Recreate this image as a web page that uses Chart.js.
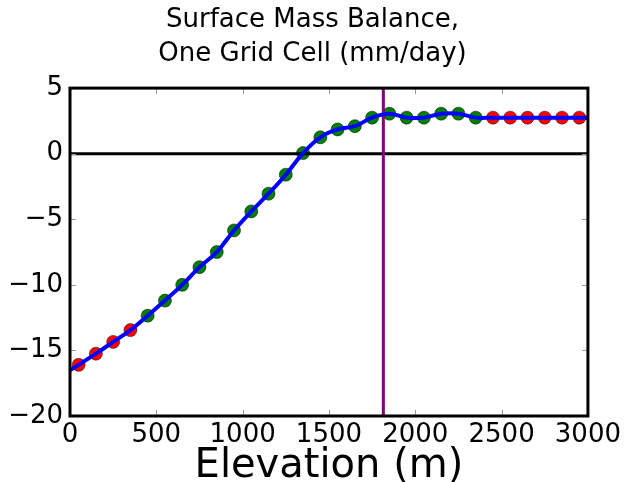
<!DOCTYPE html>
<html>
<head>
<meta charset="utf-8">
<script src="https://cdn.jsdelivr.net/npm/chart.js@4"></script>
<style>
  html, body { margin: 0; padding: 0; background: #fff; }
  canvas { display: block; }
</style>
</head>
<body>
<canvas id="smbChart" width="625" height="482"></canvas>
<script>
// elevation bin centres (m) and SMB (mm/day)
const elevations = [50, 150, 250, 350, 450, 550, 650, 750, 850, 950,
                    1050, 1150, 1250, 1350, 1450, 1550, 1650, 1750, 1850, 1950,
                    2050, 2150, 2250, 2350, 2450, 2550, 2650, 2750, 2850, 2950];
const smbValues = [-16.1, -15.25, -14.35, -13.45, -12.35, -11.2, -10.0, -8.65, -7.5, -5.85,
                   -4.4, -3.05, -1.6, 0.05, 1.25, 1.85, 2.1, 2.75, 3.05, 2.75,
                   2.75, 3.05, 3.05, 2.75, 2.75, 2.75, 2.75, 2.75, 2.75, 2.75];
// which bins are drawn red (outside the glacier range) vs green
const isExtrapolated = [true, true, true, true, false, false, false, false, false, false,
                        false, false, false, false, false, false, false, false, false, false,
                        false, false, false, false, true, true, true, true, true, true];
// smooth fit drawn across the full axis
const fitEndsX = [0, 3000];
const fitEndsY = [-16.5, 2.75];
const markerElevation = 1815;

const xTicks = [0, 500, 1000, 1500, 2000, 2500, 3000];
const yTicks = [5, 0, -5, -10, -15, -20];

const redPts = [], greenPts = [];
elevations.forEach((e, i) => {
    (isExtrapolated[i] ? redPts : greenPts).push({x: e, y: smbValues[i]});
});
const fitPts = [{x: fitEndsX[0], y: fitEndsY[0]}]
    .concat(elevations.map((e, i) => ({x: e, y: smbValues[i]})))
    .concat([{x: fitEndsX[1], y: fitEndsY[1]}]);

// matplotlib-style frame and inward ticks
const framePlugin = {
    id: 'frame',
    afterDatasetsDraw(chart) {
        const {ctx, chartArea: a, scales} = chart;
        ctx.save();
        ctx.strokeStyle = '#999';
        ctx.lineWidth = 1;
        ctx.beginPath();
        xTicks.forEach(v => {
            const px = Math.round(scales.x.getPixelForValue(v)) + 0.5;
            ctx.moveTo(px, a.bottom); ctx.lineTo(px, a.bottom - 6);
            ctx.moveTo(px, a.top); ctx.lineTo(px, a.top + 6);
        });
        yTicks.forEach(v => {
            const py = Math.round(scales.y.getPixelForValue(v)) + 0.5;
            ctx.moveTo(a.left, py); ctx.lineTo(a.left + 6, py);
            ctx.moveTo(a.right, py); ctx.lineTo(a.right - 6, py);
        });
        ctx.stroke();
        ctx.strokeStyle = '#000';
        ctx.lineWidth = 3;
        ctx.strokeRect(a.left, a.top, a.right - a.left, a.bottom - a.top);
        ctx.restore();
    }
};

new Chart(document.getElementById('smbChart'), {
    type: 'scatter',
    data: {
        datasets: [
            {
                label: 'fit',
                data: fitPts,
                showLine: true,
                borderColor: '#0000ff',
                borderWidth: 4,
                tension: 0.4,
                pointRadius: 0,
                order: 0
            },
            {
                label: 'marker',
                data: [{x: markerElevation, y: -20}, {x: markerElevation, y: 5}],
                showLine: true,
                borderColor: '#800080',
                borderWidth: 3,
                pointRadius: 0,
                order: 1
            },
            {
                label: 'zero',
                data: [{x: 0, y: 0}, {x: 3000, y: 0}],
                showLine: true,
                borderColor: '#000000',
                borderWidth: 3,
                pointRadius: 0,
                order: 2
            },
            {
                label: 'glacier',
                data: greenPts,
                backgroundColor: '#008000',
                borderColor: '#000000',
                borderWidth: 0.5,
                pointRadius: 6.5,
                order: 3
            },
            {
                label: 'extrapolated',
                data: redPts,
                backgroundColor: '#ff0000',
                borderColor: '#000000',
                borderWidth: 0.5,
                pointRadius: 6.5,
                order: 3
            }
        ]
    },
    options: {
        responsive: false,
        animation: false,
        layout: { padding: 0 },
        plugins: {
            legend: { display: false },
            tooltip: { enabled: false },
            title: {
                display: true,
                text: ['Surface Mass Balance,', 'One Grid Cell (mm/day)'],
                color: '#000',
                font: { family: 'DejaVu Sans', size: 26, weight: 'normal', lineHeight: 1.31 },
                padding: { top: 3, bottom: 17 }
            }
        },
        scales: {
            x: {
                type: 'linear',
                min: 0, max: 3000,
                afterBuildTicks: s => { s.ticks = xTicks.map(v => ({value: v})); },
                afterFit: s => { s.height = 66; },
                grid: { display: false, drawTicks: false },
                border: { display: false },
                ticks: {
                    color: '#000', padding: 4,
                    font: { family: 'DejaVu Sans', size: 26 },
                    callback: v => String(v)
                },
                title: {
                    display: true,
                    text: 'Elevation (m)',
                    color: '#000',
                    font: { family: 'DejaVu Sans', size: 40 },
                    padding: { top: 0, bottom: -9 }
                }
            },
            y: {
                type: 'linear',
                min: -20, max: 5,
                afterBuildTicks: s => { s.ticks = yTicks.map(v => ({value: v})); },
                afterFit: s => { s.width = 70; },
                grid: { display: false, drawTicks: false },
                border: { display: false },
                ticks: {
                    color: '#000', padding: 7,
                    font: { family: 'DejaVu Sans', size: 26 },
                    callback: v => String(v).replace('-', '\u2212')
                }
            },
            // empty right-hand axis, only reserves the margin right of the frame
            yRight: {
                type: 'linear',
                position: 'right',
                min: -20, max: 5,
                afterFit: s => { s.width = 37; },
                grid: { display: false, drawTicks: false },
                border: { display: false },
                ticks: { display: false }
            }
        }
    },
    plugins: [framePlugin]
});
</script>
</body>
</html>
